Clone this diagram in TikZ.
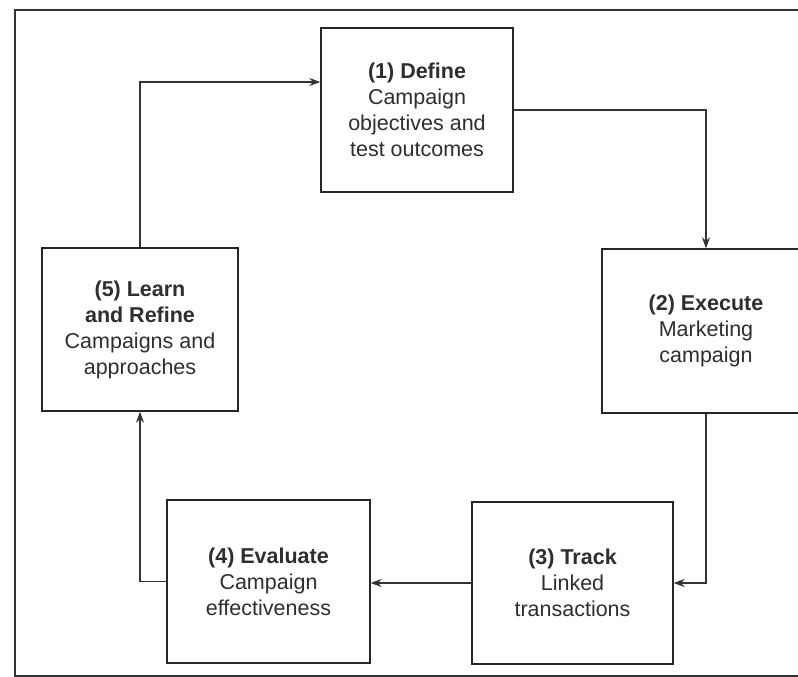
\documentclass[tikz,border=0pt]{standalone}
\usepackage{fontspec}
\setmainfont{Liberation Sans}
\usetikzlibrary{arrows.meta}
\begin{document}
\begin{tikzpicture}[x=1pt,y=-1pt,
  stage/.style={draw=black!85, line width=1.3pt, fill=white, align=center,
    inner sep=0pt, text=black!82,
    font=\fontsize{21.5}{26}\selectfont},
  flow/.style={draw=black!80, line width=1.3pt,
    -{Stealth[length=11pt,width=8pt]}},
  frame/.style={draw=black!80, line width=1.1pt}]
  \useasboundingbox (0,0) rectangle (798,677);
  \clip (0,0) rectangle (798,677);
  \fill[white] (0,0) rectangle (798,677);
  % surrounding frame, open towards the right
  \draw[frame] (15,10) rectangle (830,676);
  % the five stages of the cycle
  \node[stage, minimum width=192pt, minimum height=164pt] (b1) at (417,110)
    {\textbf{(1) Define}\\Campaign\\objectives and\\test outcomes};
  \node[stage, minimum width=208pt, minimum height=164pt] (b2) at (706,331)
    {\textbf{(2) Execute}\\Marketing\\campaign};
  \node[stage, minimum width=201pt, minimum height=162pt] (b3) at (572.5,583)
    {\textbf{(3) Track}\\Linked\\transactions};
  \node[stage, minimum width=203pt, minimum height=163pt] (b4) at (268.5,581.5)
    {\textbf{(4) Evaluate}\\Campaign\\effectiveness};
  \node[stage, minimum width=196pt, minimum height=163pt] (b5) at (140,329.5)
    {\textbf{(5) Learn}\\\textbf{and Refine}\\Campaigns and\\approaches};
  % connectors
  \draw[flow] (b1.east) -| (b2.north);
  \draw[flow] (b2.south) |- (b3.east);
  \draw[flow] (b3.west) -- (b3.west -| b4.east);
  \draw[flow] (b4.west) -| (b5.south);
  \draw[flow] (b5.north) |- ([yshift=28pt]b1.west);
\end{tikzpicture}
\end{document}
